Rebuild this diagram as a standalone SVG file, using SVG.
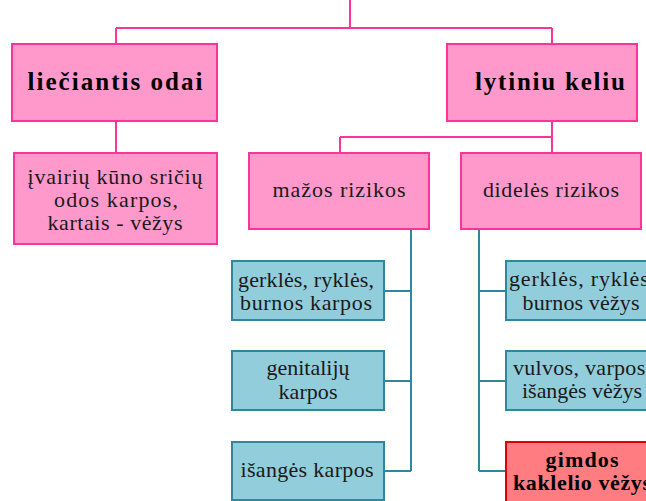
<svg xmlns="http://www.w3.org/2000/svg" width="646" height="501" viewBox="0 0 646 501">
<style>
.pk{fill:#FF99CC;stroke:#FF3399;stroke-width:2}
.tl{fill:#92CDDC;stroke:#31859C;stroke-width:2}
.rd{fill:#FF7C80;stroke:#E00000;stroke-width:2}
text{font-family:'Liberation Serif',serif;font-size:22px;fill:#1a1a1a;text-anchor:middle}
.b{font-weight:bold;font-size:25px;fill:#000}
.b2{font-weight:bold;font-size:22px;fill:#000}
.cp{fill:none;stroke:#FF3399;stroke-width:2}
.ct{fill:none;stroke:#31859C;stroke-width:2}
</style>
<g id="connectors">
<path class="cp" d="M350 0V28M116 28H552M116 28V44M552 28V44M116 121V153M552 121V137M340 137H552M340 137V153M552 137V153"/>
<path class="ct" d="M411 229V471M384 291H411M384 381H411M384 471H411M479 229V471M479 291H506M479 381H506M479 471H506"/>
</g>
<g id="n-liec"><rect class="pk" x="12" y="44" width="205" height="77"/><text class="b" x="115" y="90" textLength="175">liečiantis odai</text></g>
<g id="n-lyt"><rect class="pk" x="447" y="44" width="190" height="77"/><text class="b" x="550" y="90" textLength="150">lytiniu keliu</text></g>
<g id="n-ivair"><rect class="pk" x="14" y="153" width="203" height="91"/><text x="115" y="184" textLength="175">įvairių kūno sričių</text><text x="116" y="207" textLength="124">odos karpos,</text><text x="115" y="230" textLength="135">kartais - vėžys</text></g>
<g id="n-maz"><rect class="pk" x="249" y="153" width="180" height="76"/><text x="339" y="197" textLength="133">mažos rizikos</text></g>
<g id="n-did"><rect class="pk" x="461" y="153" width="180" height="76"/><text x="551" y="197" textLength="136">didelės rizikos</text></g>
<g id="n-l1"><rect class="tl" x="232" y="261" width="152" height="59"/><text x="306" y="287" textLength="136">gerklės, ryklės,</text><text x="306" y="310" textLength="132">burnos karpos</text></g>
<g id="n-l2"><rect class="tl" x="232" y="351" width="152" height="59"/><text x="308" y="375" textLength="83">genitalijų</text><text x="308" y="399" textLength="59">karpos</text></g>
<g id="n-l3"><rect class="tl" x="232" y="442" width="152" height="58"/><text x="307" y="477" textLength="133">išangės karpos</text></g>
<g id="n-r1"><rect class="tl" x="506" y="261" width="152" height="59"/><text x="582" y="286" textLength="146">gerklės, ryklės,</text><text x="581" y="310" textLength="117">burnos vėžys</text></g>
<g id="n-r2"><rect class="tl" x="506" y="351" width="152" height="59"/><text x="582" y="375" textLength="138">vulvos, varpos,</text><text x="582" y="398" textLength="120">išangės vėžys</text></g>
<g id="n-r3"><rect class="rd" x="506" y="442" width="152" height="62"/><text class="b2" x="582" y="467" textLength="73">gimdos</text><text class="b2" x="582" y="490" textLength="138">kaklelio vėžys</text></g>
</svg>
